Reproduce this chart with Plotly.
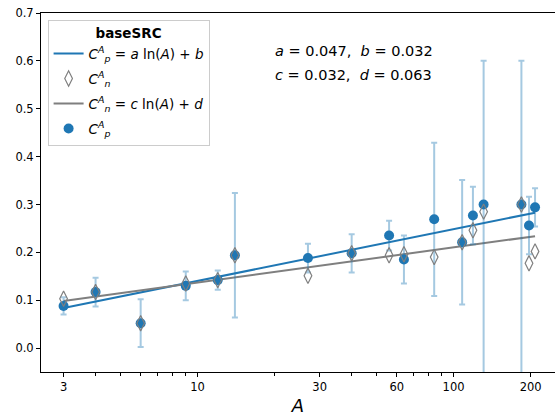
import numpy as np
import plotly.graph_objects as go

# ---- data ----
A_vals = [3, 4, 6, 9, 12, 14, 27, 40, 56, 64, 84, 108, 119, 131, 184, 197, 208]
Cp_vals = [0.088, 0.117, 0.052, 0.130, 0.142, 0.194, 0.188, 0.198, 0.235, 0.185,
           0.269, 0.221, 0.277, 0.300, 0.300, 0.256, 0.294]
Cp_err_plus = [0.018, 0.030, 0.050, 0.030, 0.020, 0.130, 0.030, 0.040, 0.031, 0.050,
               0.160, 0.130, 0.060, 0.300, 0.300, 0.060, 0.040]
Cp_err_minus = [0.018, 0.030, 0.050, 0.030, 0.020, 0.130, 0.030, 0.040, 0.031, 0.050,
                0.160, 0.130, 0.060, 0.400, 0.400, 0.060, 0.040]
Cn_vals = [0.103, 0.117, 0.052, 0.135, 0.142, 0.194, 0.151, 0.198, 0.194, 0.196,
           0.190, 0.221, 0.246, 0.285, 0.300, 0.177, 0.202]
fit_a, fit_b = 0.047, 0.032
fit_c, fit_d = 0.032, 0.063
x_tick_vals = [3, 10, 30, 60, 100, 200]
x_tick_text = ["3", "10", "30", "60", "100", "200"]
x_minor_vals = [4, 5, 6, 7, 8, 9, 20, 40, 50, 70, 80, 90, 300]
y_tick_vals = [0.0, 0.1, 0.2, 0.3, 0.4, 0.5, 0.6, 0.7]

BLUE = "#1f77b4"
GRAY = "#7f7f7f"
FONT = "DejaVu Sans"

A_line = np.array([min(A_vals), max(A_vals)], dtype=float)
blue_line = fit_a * np.log(A_line) + fit_b
gray_line = fit_c * np.log(A_line) + fit_d

lab_p = "<i>C</i><sup><i>A</i></sup><sub><i>p</i></sub>"
lab_n = "<i>C</i><sup><i>A</i></sup><sub><i>n</i></sub>"

fig = go.Figure()
fig.add_trace(go.Scatter(
    x=A_line, y=blue_line, mode="lines", line=dict(color=BLUE, width=2),
    name=lab_p + " = <i>a</i> ln(<i>A</i>) + <i>b</i>",
    legendgroup="g1", legendrank=1))
fig.add_trace(go.Scatter(
    x=A_line, y=gray_line, mode="lines", line=dict(color=GRAY, width=2),
    name=lab_n + " = <i>c</i> ln(<i>A</i>) + <i>d</i>",
    legendgroup="g3", legendrank=3))
fig.add_trace(go.Scatter(
    x=A_vals, y=Cp_vals, mode="markers",
    marker=dict(color=BLUE, size=10, line=dict(width=0)),
    error_y=dict(type="data", symmetric=False, array=Cp_err_plus,
                 arrayminus=Cp_err_minus, color="rgba(31,119,180,0.4)",
                 thickness=2, width=3),
    name=lab_p, legendgroup="g4", legendrank=4))
fig.add_trace(go.Scatter(
    x=A_vals, y=Cn_vals, mode="markers",
    marker=dict(symbol="diamond-tall-open", color=GRAY, size=11,
                line=dict(width=1.2, color=GRAY)),
    name=lab_n, legendgroup="g2", legendrank=2))

L, T, R, B = 40.7, 12.7, 0, 44.3
W, H = 555, 416

fig.update_layout(
    width=W, height=H,
    margin=dict(l=L, r=R, t=T, b=B, pad=0),
    paper_bgcolor="white", plot_bgcolor="white",
    font=dict(family=FONT, size=12, color="black"),
    showlegend=True,
    legend=dict(
        x=(47.3 - L) / (W - L), y=1 - (19.3 - T) / (H - T - B),
        xanchor="left", yanchor="top",
        bgcolor="rgba(255,255,255,0.8)", bordercolor="#cccccc", borderwidth=1,
        font=dict(family=FONT, size=13.5),
        title=dict(text="<b>baseSRC</b>", side="top center",
                   font=dict(family=FONT, size=13.5)),
        itemwidth=30, tracegroupgap=4.5, traceorder="grouped",
        groupclick="toggleitem",
    ),
    xaxis=dict(
        type="log", range=[0.389, 2.396],
        tickmode="array", tickvals=x_tick_vals, ticktext=x_tick_text,
        ticks="outside", ticklen=4, tickwidth=1, tickcolor="black",
        minor=dict(tickmode="array", tickvals=x_minor_vals, ticks="outside",
                   ticklen=2.5, tickwidth=0.8, tickcolor="black", showgrid=False),
        showline=True, linecolor="black", linewidth=1, mirror=True,
        showgrid=False, zeroline=False,
        tickfont=dict(family=FONT, size=11.5),
        title=dict(text="<i>A</i>", font=dict(family=FONT, size=18), standoff=6),
    ),
    yaxis=dict(
        range=[-0.05, 0.7],
        tickmode="array", tickvals=y_tick_vals,
        ticktext=[f"{v:.1f}" for v in y_tick_vals],
        ticks="outside", ticklen=4, tickwidth=1, tickcolor="black",
        showline=True, linecolor="black", linewidth=1, mirror=False,
        showgrid=False, zeroline=False,
        tickfont=dict(family=FONT, size=11.5),
    ),
    annotations=[
        dict(text=f"<i>a</i> = {fit_a:.3f},  <i>b</i> = {fit_b:.3f}",
             xref="paper", yref="paper", x=(273 - L) / (W - L),
             y=1 - (50.7 - T) / (H - T - B), xanchor="left", yanchor="middle",
             showarrow=False, font=dict(family=FONT, size=14.5)),
        dict(text=f"<i>c</i> = {fit_c:.3f},  <i>d</i> = {fit_d:.3f}",
             xref="paper", yref="paper", x=(273 - L) / (W - L),
             y=1 - (74.3 - T) / (H - T - B), xanchor="left", yanchor="middle",
             showarrow=False, font=dict(family=FONT, size=14.5)),
    ],
)

fig.write_html("out.html")
